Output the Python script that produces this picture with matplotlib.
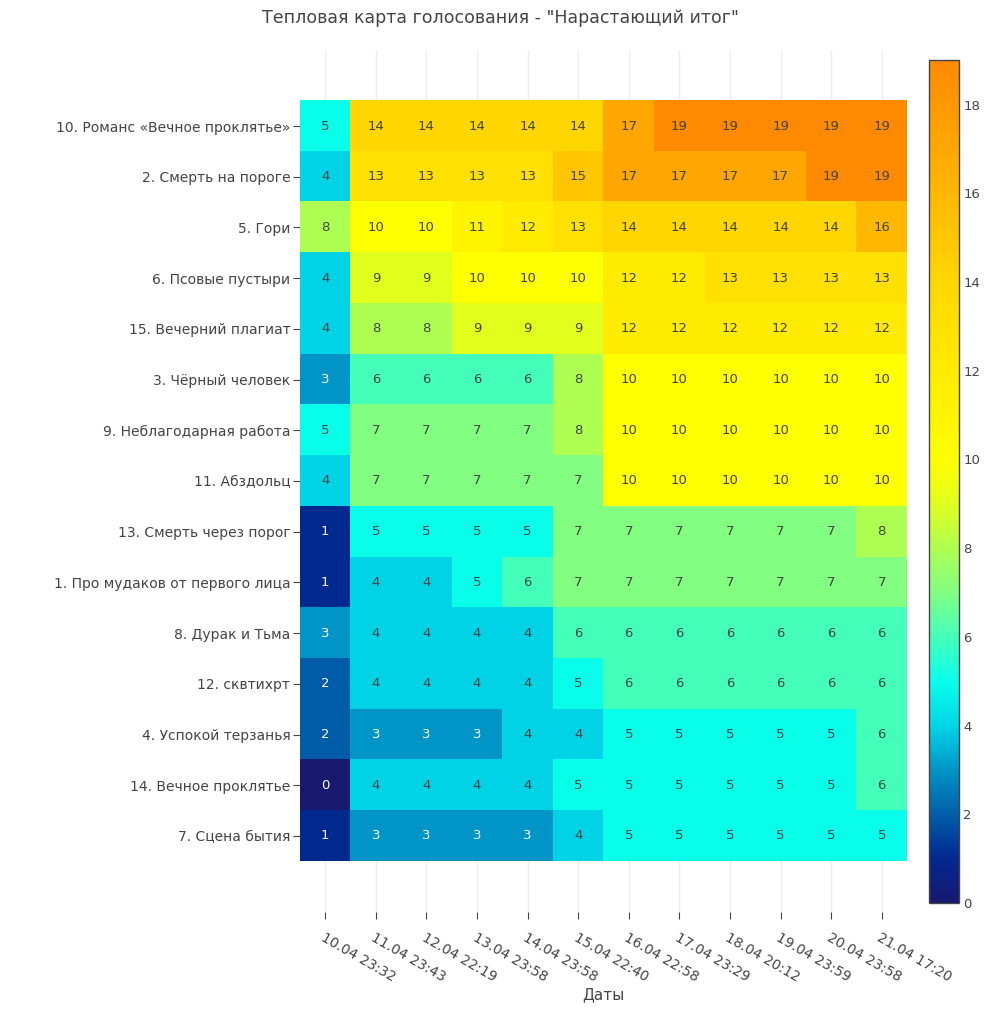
import numpy as np
import matplotlib.pyplot as plt
from matplotlib.colors import LinearSegmentedColormap

plt.rcParams['font.family'] = ['DejaVu Sans']

songs = [
    '10. Романс «Вечное проклятье»',
    '2. Смерть на пороге',
    '5. Гори',
    '6. Псовые пустыри',
    '15. Вечерний плагиат',
    '3. Чёрный человек',
    '9. Неблагодарная работа',
    '11. Абздольц',
    '13. Смерть через порог',
    '1. Про мудаков от первого лица',
    '8. Дурак и Тьма',
    '12. сквтихрт',
    '4. Успокой терзанья',
    '14. Вечное проклятье',
    '7. Сцена бытия',
]

dates = ['10.04 23:32', '11.04 23:43', '12.04 22:19', '13.04 23:58',
         '14.04 23:58', '15.04 22:40', '16.04 22:58', '17.04 23:29',
         '18.04 20:12', '19.04 23:59', '20.04 23:58', '21.04 17:20']

votes = np.array([
    [5, 14, 14, 14, 14, 14, 17, 19, 19, 19, 19, 19],
    [4, 13, 13, 13, 13, 15, 17, 17, 17, 17, 19, 19],
    [8, 10, 10, 11, 12, 13, 14, 14, 14, 14, 14, 16],
    [4, 9, 9, 10, 10, 10, 12, 12, 13, 13, 13, 13],
    [4, 8, 8, 9, 9, 9, 12, 12, 12, 12, 12, 12],
    [3, 6, 6, 6, 6, 8, 10, 10, 10, 10, 10, 10],
    [5, 7, 7, 7, 7, 8, 10, 10, 10, 10, 10, 10],
    [4, 7, 7, 7, 7, 7, 10, 10, 10, 10, 10, 10],
    [1, 5, 5, 5, 5, 7, 7, 7, 7, 7, 7, 8],
    [1, 4, 4, 5, 6, 7, 7, 7, 7, 7, 7, 7],
    [3, 4, 4, 4, 4, 6, 6, 6, 6, 6, 6, 6],
    [2, 4, 4, 4, 4, 5, 6, 6, 6, 6, 6, 6],
    [2, 3, 3, 3, 4, 4, 5, 5, 5, 5, 5, 6],
    [0, 4, 4, 4, 4, 5, 5, 5, 5, 5, 5, 6],
    [1, 3, 3, 3, 3, 4, 5, 5, 5, 5, 5, 5],
])

# colour scale (value, rgb)
vmax = 19
anchors = [
    (0, (25, 25, 112)),
    (1, (0, 42, 145)),
    (2, (0, 95, 170)),
    (3, (0, 150, 200)),
    (4, (0, 215, 232)),
    (5, (10, 255, 235)),
    (6, (70, 255, 185)),
    (7, (130, 255, 130)),
    (8, (175, 255, 80)),
    (9, (225, 255, 30)),
    (10, (255, 255, 0)),
    (14, (255, 215, 0)),
    (17, (255, 168, 0)),
    (19, (255, 138, 0)),
]
cmap = LinearSegmentedColormap.from_list(
    'votes', [(v / vmax, tuple(c / 255 for c in rgb)) for v, rgb in anchors])

fig = plt.figure(figsize=(10, 10.13), dpi=100)
ax = fig.add_axes([0.300, 0.0997, 0.607, 0.851])
cax = fig.add_axes([0.929, 0.1086, 0.030, 0.832])

n_rows, n_cols = votes.shape
im = ax.imshow(votes, cmap=cmap, vmin=0, vmax=vmax, aspect='auto',
               interpolation='nearest', zorder=2)
ax.set_xlim(-0.5, n_cols - 0.5)
ax.set_ylim(n_rows + 0.5, -1.5)

for i in range(n_rows):
    for j in range(n_cols):
        v = votes[i, j]
        ax.text(j, i, str(v), ha='center', va='center', fontsize=9.5,
                color='white' if v <= 3 else '#444444', zorder=3)

ax.set_xticks(range(n_cols))
ax.set_xticklabels(dates, rotation=-30, ha='left', va='top',
                   rotation_mode='anchor', fontsize=10, color='#444444')
ax.set_yticks(range(n_rows))
ax.set_yticklabels(songs, fontsize=10, color='#444444')
ax.tick_params(axis='x', length=5, pad=8, color='#444444', width=0.8)
ax.tick_params(axis='y', length=5, pad=2, color='#444444', width=0.8)
ax.grid(axis='x', color='#eeeeee', linewidth=1, zorder=0)
ax.set_axisbelow(True)
for s in ax.spines.values():
    s.set_visible(False)
ax.set_xlabel('Даты', fontsize=11, color='#444444', labelpad=2)

cb = fig.colorbar(im, cax=cax)
cb.set_ticks(range(0, 19, 2))
cb.ax.tick_params(length=0, labelsize=9.5, labelcolor='#444444', pad=3)
cb.outline.set_edgecolor('#444444')
cb.outline.set_linewidth(1)

fig.text(0.5, 0.982, 'Тепловая карта голосования - "Нарастающий итог"',
         ha='center', va='center', fontsize=12.5, color='#444444')

fig.savefig('out.png', dpi=100)
